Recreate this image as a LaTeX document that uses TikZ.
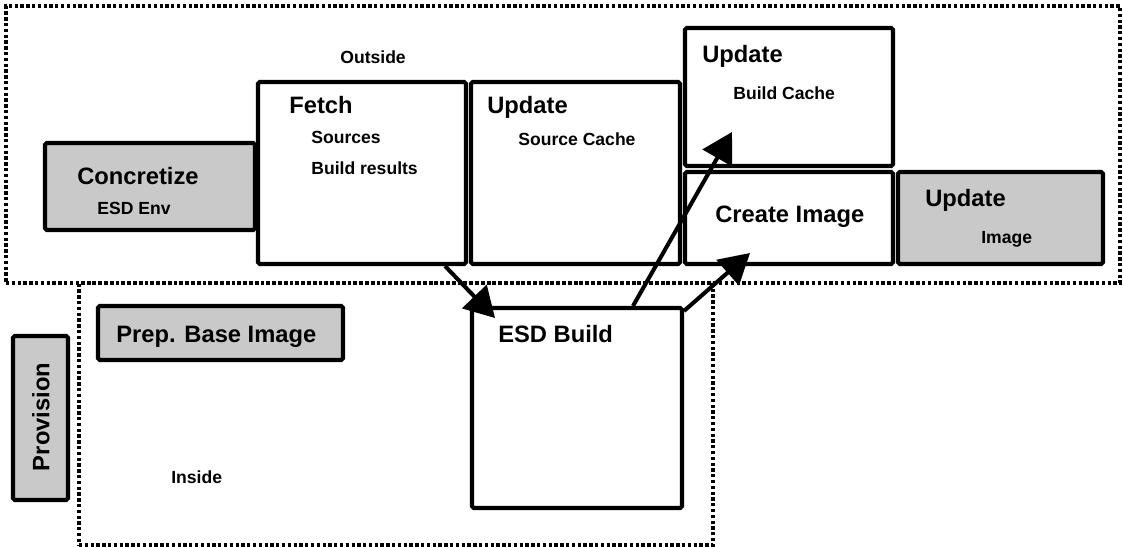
\documentclass[tikz,border=0pt]{standalone}
\usepackage{fontspec}
\setmainfont{Liberation Sans}
\usetikzlibrary{arrows.meta,fit,positioning}

\definecolor{boxgray}{gray}{0.79}

\tikzset{
  box/.style={draw, line width=2.3pt, rounded corners=1pt, fill=white, inner sep=0pt},
  graybox/.style={box, fill=boxgray},
  region/.style={draw, line width=2pt, dash pattern=on 1.9pt off 1.4pt, inner sep=0pt},
  big/.style={font=\fontsize{13.5}{16}\selectfont\bfseries, inner sep=0pt, anchor=base west},
  small/.style={font=\fontsize{10}{12}\selectfont\bfseries, inner sep=0pt, anchor=base west},
  flow/.style={-{Triangle[length=17pt,width=19pt]}, line width=2.3pt},
}

\begin{document}
\begin{tikzpicture}[x=0.02cm,y=-0.02cm]
  \useasboundingbox (0,0) rectangle (1123,547);
% Outside / inside regions
  \node[region, fit={(6,6) (1120,283)}] (outside) {};
  \node[region, fit={(79,283) (713,545)}] (inside) {};
  \node[small] (outlbl) at (340,64) {Outside};
  \node[small] (inlbl) at (171,483) {Inside};
% Outside steps
  \node[graybox, fit={(45,143) (255,230)}] (concretize) {};
  \node[big] (concretizet) at (77,185) {Concretize};
  \node[small] (concretizes) at (97,215) {ESD Env};
  \node[box, fit={(258,82) (466,264)}] (fetch) {};
  \node[big] (fetcht) at (289,114) {Fetch};
  \node[small] (fetchs1) at (311,144) {Sources};
  \node[small] (fetchs2) at (311,175) {Build results};
  \node[box, fit={(471,82) (680,264)}] (srccache) {};
  \node[big] (srccachet) at (487,114) {Update};
  \node[small] (srccaches) at (518,146) {Source Cache};
  \node[box, fit={(685,28) (893,166)}] (bldcache) {};
  \node[big] (bldcachet) at (702,63) {Update};
  \node[small] (bldcaches) at (733,100) {Build Cache};
  \node[box, fit={(685,172) (893,264)}] (create) {};
  \node[big] (createt) at (715,223) {Create Image};
  \node[graybox, fit={(898,172) (1103,264)}] (updimg) {};
  \node[big] (updimgt) at (925,207) {Update};
  \node[small] (updimgs) at (981,244) {Image};
% Inside steps
  \node[graybox, fit={(13,336) (68,500)}] (provision) {};
  \node[font=\fontsize{13.5}{16}\selectfont\bfseries, rotate=90, inner sep=0pt] (provisiont) at (41,417) {Provision};
  \node[graybox, fit={(98,306) (343,360)}] (prep) {};
  \node[big] (prept) at (116,342) {Prep. Base Image};
  \node[box, fit={(472,308) (682,508)}] (esd) {};
  \node[big] (esdt) at (498,342) {ESD Build};
% Arrows
  \coordinate (esdtip) at (495,318);
  \coordinate (bldtip) at (732,132);
  \coordinate (createtip) at (750,253);
  \draw[flow] ([xshift=-0.46cm]fetch.south east) -- (esdtip);
  \draw[flow] ([xshift=1.12cm]esd.north) -- (bldtip);
  \draw[flow] ([yshift=-0.1cm]esd.north east) -- (createtip);
\end{tikzpicture}
\end{document}
